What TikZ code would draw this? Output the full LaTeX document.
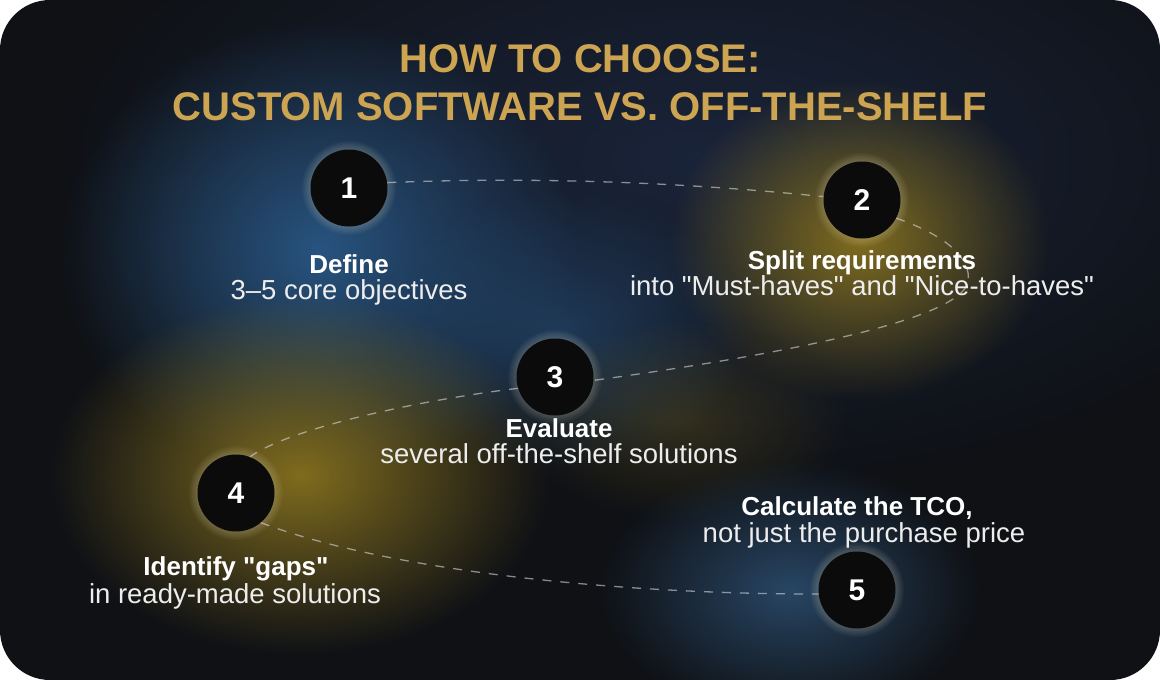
\documentclass[tikz,border=0pt]{standalone}
\usepackage{fontspec}
\setmainfont{Liberation Sans}
\usetikzlibrary{fadings}
\tikzfading[name=glowfade, inner color=transparent!0, outer color=transparent!100]
\definecolor{bgdark}{RGB}{15,17,21}
\definecolor{navyglow}{RGB}{26,36,58}
\definecolor{blueglow}{RGB}{40,84,128}
\definecolor{yellowglow}{RGB}{128,108,30}
\definecolor{tealglow}{RGB}{40,70,100}
\definecolor{titlegold}{RGB}{204,164,82}
\definecolor{circblack}{RGB}{11,11,12}
\definecolor{halocol}{RGB}{255,244,210}
\definecolor{dashcol}{RGB}{215,215,215}
\newcommand\dq{\XeTeXglyph\XeTeXcharglyph 34\relax}
\tikzset{
  glow/.style={path fading=glowfade},
  stepcirc/.style={circle, fill=circblack, minimum size=77pt, inner sep=0pt,
    text=white, font=\fontsize{30}{30}\selectfont\bfseries},
  titletext/.style={anchor=base, inner sep=0pt, text=titlegold,
    font=\fontsize{40}{48}\selectfont\bfseries},
  lblbold/.style={anchor=base, inner sep=0pt, text=white,
    font=\fontsize{26}{30}\selectfont\bfseries},
  lblreg/.style={anchor=base, inner sep=0pt, text=white!93!black,
    font=\fontsize{27.5}{30}\selectfont},
  dashline/.style={draw=dashcol, draw opacity=0.6, line width=1.3pt,
    dash pattern=on 9pt off 9pt}
}
\newcommand\halodraw[1]{%
  \foreach \k in {1,...,6}{\fill[halocol, opacity=0.035] (#1) circle[radius=38.5+\k*1.4];}}
\begin{document}
\begin{tikzpicture}[x=1pt,y=-1pt]
\useasboundingbox (0,0) rectangle (1160,680);
\fill[white] (0,0) rectangle (1160,680);
\begin{scope}
  \clip[rounded corners=50pt] (0,0) rectangle (1160,680);
  \fill[bgdark] (0,0) rectangle (1160,680);
  % broad glows
  \fill[navyglow, glow] (700,160) ellipse [x radius=650, y radius=330];
  \fill[blueglow, glow] (320,250) ellipse [x radius=260, y radius=230];
  \fill[blueglow, glow, opacity=0.55] (560,330) ellipse [x radius=190, y radius=140];
  \fill[yellowglow, glow] (860,240) ellipse [x radius=190, y radius=160];
  \fill[yellowglow, glow] (300,475) ellipse [x radius=250, y radius=180];
  \fill[yellowglow, glow, opacity=0.3] (680,420) ellipse [x radius=170, y radius=100];
  \fill[tealglow, glow] (790,590) ellipse [x radius=190, y radius=130];
\end{scope}

% circles
\halodraw{349,188}
\halodraw{862,200}
\halodraw{555,377}
\halodraw{236,493}
\halodraw{857,590}
\node[stepcirc] (n1) at (349,188) {1};
\node[stepcirc] (n2) at (862,200) {2};
\node[stepcirc] (n3) at (555,377) {3};
\node[stepcirc] (n4) at (236,493) {4};
\node[stepcirc] (n5) at (857,590) {5};

% dashed route
\coordinate (bend2) at (968,282);
\draw[dashline] (n1.8) .. controls (550,176) and (700,184) .. (n2.175);
\draw[dashline] (n2.-28) .. controls (945,235) and (972,258) .. (bend2)
  .. controls (960,318) and (800,352) .. (n3.-5);
\draw[dashline] (n3.197) .. controls (420,400) and (290,428) .. (n4.69);
\draw[dashline] (n4.-50) .. controls (380,568) and (600,594) .. (n5.186);

% title
\node[titletext] (title1) at (580,72) {HOW TO CHOOSE:};
\node[titletext] (title2) at (580,120) {CUSTOM SOFTWARE VS. OFF-THE-SHELF};

% labels
\node[lblbold] (l1a) at (349,273) {Define};
\node[lblreg]  (l1b) at (349,299) {3–5 core objectives};
\node[lblbold] (l2a) at (862,269) {Split requirements};
\node[lblreg]  (l2b) at (862,295) {into \dq Must-haves\dq{} and \dq Nice-to-haves\dq};
\node[lblbold] (l3a) at (559,437) {Evaluate};
\node[lblreg]  (l3b) at (559,463) {several off-the-shelf solutions};
\node[lblbold] (l4a) at (236,575) {Identify \dq gaps\dq};
\node[lblreg]  (l4b) at (235,603) {in ready-made solutions};
\node[lblbold] (l5a) at (857,515) {Calculate the TCO,};
\node[lblreg]  (l5b) at (864,542) {not just the purchase price};
\end{tikzpicture}
\end{document}
